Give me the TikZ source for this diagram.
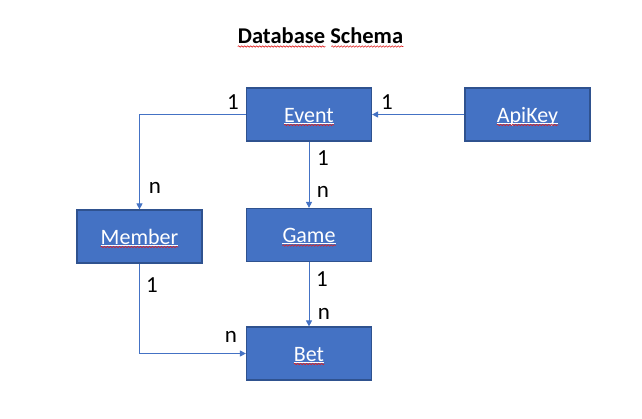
\documentclass[tikz,border=0pt]{standalone}
\usepackage{fontspec}
\setmainfont{Carlito}
\usetikzlibrary{arrows.meta,decorations.pathmorphing,calc}
\definecolor{boxblue}{HTML}{4472C4}
\definecolor{boxedge}{HTML}{2F528F}
\definecolor{linkblue}{HTML}{4472C4}
\definecolor{spellred}{HTML}{E02020}
\begin{document}
\begin{tikzpicture}[x=1pt,y=-1pt,
  entity/.style={draw=boxedge,fill=boxblue,line width=1.2pt,minimum width=125pt,minimum height=53pt,inner sep=0pt},
  etext/.style={text=white,font=\fontsize{22}{26}\selectfont,inner sep=0pt,anchor=base},
  lbl/.style={text=black,font=\fontsize{23}{27}\selectfont,inner sep=0pt,anchor=base},
  conn/.style={draw=linkblue,line width=0.9pt,-{Triangle[width=6pt,length=6pt]}},
  whiteul/.style={draw=white,line width=0.5pt},
  squiggle/.style={draw=spellred,line width=0.6pt,decorate,decoration={snake,amplitude=0.7pt,segment length=3pt}}
]
\fill[white] (0,0) rectangle (642,418);
\useasboundingbox (0,0) rectangle (642,418);

% title
\node[font=\bfseries\fontsize{22.5}{27}\selectfont,inner sep=0pt,anchor=base] (title) at (320.5,43) {Database Schema};
\draw[squiggle] ([yshift=-3.5pt]title.base west) -- ([yshift=-3.5pt]$(title.base west)!0.53!(title.base east)$);
\draw[squiggle] ([yshift=-3.5pt]$(title.base west)!0.565!(title.base east)$) -- ([yshift=-3.5pt]title.base east);

% boxes
\node[entity] (event) at (309,114.5) {};
\node[entity] (apikey) at (527.5,114.5) {};
\node[entity] (member) at (139.5,236.5) {};
\node[entity] (game) at (309,235) {};
\node[entity] (bet) at (309,353.5) {};

% box texts
\node[etext] (event-t) at ($(event.center)+(0,7.5)$) {Event};
\node[etext] (apikey-t) at ($(apikey.center)+(0,7.5)$) {ApiKey};
\node[etext] (member-t) at ($(member.center)+(0,7.5)$) {Member};
\node[etext] (game-t) at ($(game.center)+(0,7.5)$) {Game};
\node[etext] (bet-t) at ($(bet.center)+(0,7.5)$) {Bet};

\foreach \t in {event-t,apikey-t,member-t,game-t,bet-t}{
  \draw[whiteul] ([yshift=-0.9pt]\t.base west) -- ([yshift=-0.9pt]\t.base east);
  \draw[squiggle] ([yshift=-3pt]\t.base west) -- ([yshift=-3pt]\t.base east);
}

% connectors
\draw[conn] (event.west) -| (member.north);
\draw[conn] (apikey.west) -- (event.east);
\draw[conn] (event.south) -- (game.north);
\draw[conn] (game.south) -- (bet.north);
\draw[conn] (member.south) |- (bet.west);

% multiplicity labels
\node[lbl] (l-em-1) at (233,109) {1};
\node[lbl] (l-em-n) at (155,193) {n};
\node[lbl] (l-ae-1) at (387,109) {1};
\node[lbl] (l-eg-1) at (323,165) {1};
\node[lbl] (l-eg-n) at (323,197) {n};
\node[lbl] (l-gb-1) at (322,286) {1};
\node[lbl] (l-gb-n) at (324,319) {n};
\node[lbl] (l-mb-1) at (152,292) {1};
\node[lbl] (l-mb-n) at (231,342) {n};
\end{tikzpicture}
\end{document}
